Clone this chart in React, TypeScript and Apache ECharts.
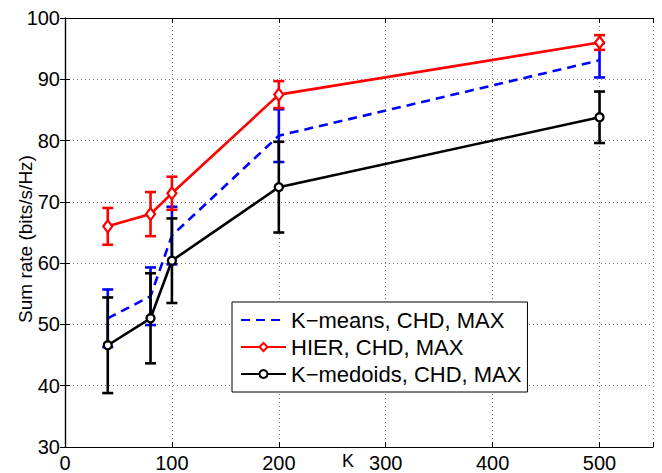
import React, { useEffect, useRef } from "react";
import * as echarts from "echarts";

const kValues = [40, 80, 100, 200, 500];
const kmeansMean = [51.0, 54.6, 64.5, 80.8, 93.1];
const kmeansErr = [4.7, 4.7, 4.7, 4.3, 2.8];
const hierMean = [66.0, 68.0, 71.4, 87.5, 96.0];
const hierErr = [3.0, 3.6, 2.7, 2.2, 1.2];
const kmedMean = [46.6, 51.0, 60.4, 72.4, 83.8];
const kmedErr = [7.8, 7.35, 6.9, 7.4, 4.2];
const xTicks = [0, 100, 200, 300, 400, 500];
const yTicks = [30, 40, 50, 60, 70, 80, 90, 100];
const seriesNames = ["K\u2212means, CHD, MAX", "HIER, CHD, MAX", "K\u2212medoids, CHD, MAX"];

const FONT = "'Liberation Sans', Arial, Helvetica, sans-serif";

function errData(mean: number[], err: number[]) {
  return kValues.map((k, i) => [k, mean[i] - err[i], mean[i] + err[i]]);
}

function errSeries(name: string, mean: number[], err: number[], color: string, z: number) {
  return {
    type: "custom",
    name,
    z,
    data: errData(mean, err),
    encode: { x: 0, y: [1, 2] },
    renderItem: (params: any, api: any) => {
      const x = api.value(0);
      const lo = api.coord([x, api.value(1)]);
      const hi = api.coord([x, api.value(2)]);
      const w = 5.5;
      const style = { stroke: color, lineWidth: 2.6 };
      return {
        type: "group",
        children: [
          { type: "line", shape: { x1: lo[0], y1: lo[1], x2: hi[0], y2: hi[1] }, style },
          { type: "line", shape: { x1: lo[0] - w, y1: lo[1], x2: lo[0] + w, y2: lo[1] }, style },
          { type: "line", shape: { x1: hi[0] - w, y1: hi[1], x2: hi[0] + w, y2: hi[1] }, style },
        ],
      };
    },
  };
}

export default function App() {
  const ref = useRef<HTMLDivElement>(null);
  useEffect(() => {
    const chart = echarts.init(ref.current!, null, { renderer: "svg" });
    const grid = { left: 65, top: 18, right: 9, bottom: 25 };
    const axisLine = { show: true, lineStyle: { color: "#000", width: 1.2 } };
    const tick = { show: true, inside: true, length: 5, lineStyle: { color: "#000" } };
    const grey = { show: true, lineStyle: { color: "#777", type: [1, 3], width: 1 } };
    chart.setOption({
      animation: false,
      backgroundColor: "#fff",
      grid,
      xAxis: [
        {
          type: "value",
          min: 0,
          max: 550,
          interval: 100,
          axisLine,
          axisTick: tick,
          axisLabel: {
            color: "#000",
            fontSize: 20,
            fontFamily: FONT,
            margin: 6,
            formatter: (v: number) => (xTicks.includes(v) ? String(v) : ""),
          },
          splitLine: grey,
        },
        {
          type: "value",
          position: "top",
          min: 0,
          max: 550,
          interval: 100,
          axisLine,
          axisTick: tick,
          axisLabel: { show: false },
          splitLine: { show: false },
        },
      ],
      yAxis: [
        {
          type: "value",
          min: 30,
          max: 100,
          interval: 10,
          axisLine,
          axisTick: tick,
          axisLabel: {
            color: "#000",
            fontSize: 20,
            fontFamily: FONT,
            margin: 5,
            formatter: (v: number) => (yTicks.includes(v) ? String(v) : ""),
          },
          splitLine: grey,
        },
        {
          type: "value",
          position: "right",
          min: 30,
          max: 100,
          interval: 10,
          axisLine,
          axisTick: tick,
          axisLabel: { show: false },
          splitLine: { show: false },
        },
      ],
      graphic: [
        {
          type: "text",
          x: 25,
          y: 239,
          rotation: Math.PI / 2,
          style: {
            text: "Sum rate (bits/s/Hz)",
            fill: "#000",
            font: `19px ${FONT}`,
            align: "center",
            verticalAlign: "middle",
          },
        },
        {
          type: "text",
          x: 342,
          y: 452,
          style: { text: "K", fill: "#000", font: `18px ${FONT}`, verticalAlign: "top" },
        },
      ],
      legend: {
        data: [
          { name: seriesNames[0], itemStyle: { opacity: 0 } },
          { name: seriesNames[1] },
          { name: seriesNames[2] },
        ],
        orient: "vertical",
        left: 232,
        top: 302,
        padding: [7, 6, 7, 8],
        itemGap: 5,
        itemWidth: 45,
        itemHeight: 10,
        backgroundColor: "#fff",
        borderColor: "#000",
        borderWidth: 1,
        textStyle: { color: "#000", fontSize: 22, lineHeight: 20, fontFamily: FONT },
      },
      series: [
        errSeries("err-kmeans", kmeansMean, kmeansErr, "#0000ff", 2),
        {
          type: "line",
          name: seriesNames[0],
          data: kValues.map((k, i) => [k, kmeansMean[i]]),
          symbol: "none",
          lineStyle: { color: "#0000ff", width: 2.6, type: [9, 6] },
          itemStyle: { color: "#0000ff" },
          z: 3,
        },
        errSeries("err-hier", hierMean, hierErr, "#ff0000", 4),
        {
          type: "line",
          name: seriesNames[1],
          data: kValues.map((k, i) => [k, hierMean[i]]),
          symbol: "diamond",
          symbolSize: [9, 12],
          lineStyle: { color: "#ff0000", width: 2.6 },
          itemStyle: { color: "#fff", borderColor: "#ff0000", borderWidth: 2.2 },
          z: 5,
        },
        errSeries("err-kmed", kmedMean, kmedErr, "#000000", 6),
        {
          type: "line",
          name: seriesNames[2],
          data: kValues.map((k, i) => [k, kmedMean[i]]),
          symbol: "circle",
          symbolSize: 8,
          lineStyle: { color: "#000", width: 2.6 },
          itemStyle: { color: "#fff", borderColor: "#000", borderWidth: 2.3 },
          z: 7,
        },
      ],
    });
    return () => chart.dispose();
  }, []);
  return <div ref={ref} style={{ width: 662, height: 473, position: "absolute", left: 0, top: 0 }} />;
}
